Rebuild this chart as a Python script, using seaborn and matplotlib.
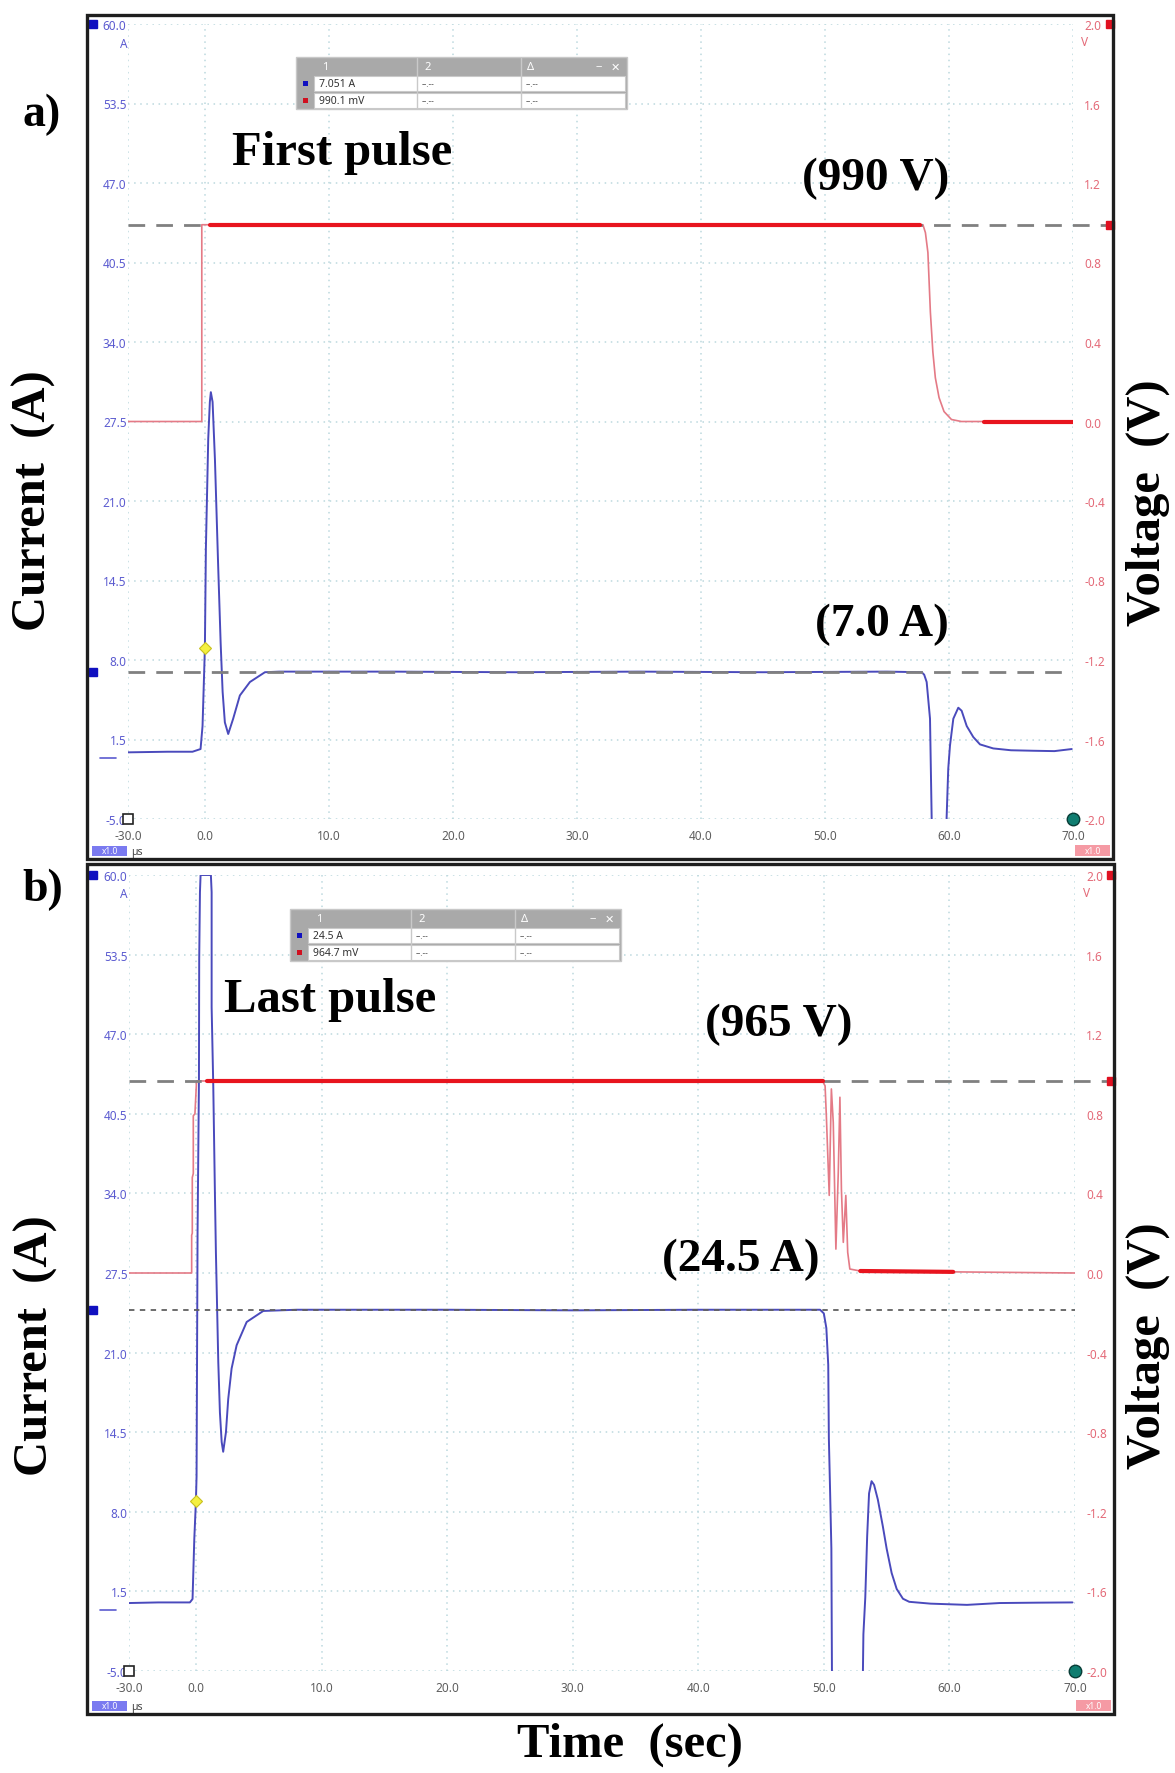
import matplotlib
matplotlib.use("Agg")
import numpy as np
import pandas as pd
import matplotlib.pyplot as plt
import matplotlib.transforms as mtrans
from matplotlib.patches import Rectangle
import seaborn as sns

# ---------------- data ----------------
cur_ticks = [-5.0, 1.5, 8.0, 14.5, 21.0, 27.5, 34.0, 40.5, 47.0, 53.5, 60.0]
volt_ticks = [-2.0, -1.6, -1.2, -0.8, -0.4, 0.0, 0.4, 0.8, 1.2, 1.6, 2.0]
time_ticks = [0.0, 10.0, 20.0, 30.0, 40.0, 50.0, 60.0, 70.0]
time_labels = ["-30.0", "0.0", "10.0", "20.0", "30.0", "40.0", "50.0", "60.0", "70.0"]

# panel a) first pulse
t_cur_a = [-6.2, -3.0, -1.0, -0.35, -0.19, 0.0, 0.08, 0.27, 0.40, 0.48, 0.62, 0.81,
           1.07, 1.27, 1.43, 1.61, 1.88, 2.28, 2.82, 3.63, 4.84, 6.0, 15.0, 25.0,
           35.0, 45.0, 55.0, 57.8, 58.0, 58.2, 58.47, 58.6, 58.62, 59.78, 59.81,
           59.94, 60.08, 60.35, 60.75, 61.02, 61.43, 61.96, 62.5, 63.57, 65.0,
           66.8, 68.5, 69.9]
i_cur_a = [0.45, 0.5, 0.5, 0.72, 2.6, 9.0, 17.1, 26.1, 29.1, 29.9, 29.1, 24.4,
           15.7, 9.4, 5.4, 2.9, 1.95, 3.2, 5.1, 6.2, 7.0, 7.05, 7.05, 7.0,
           7.05, 7.0, 7.05, 7.0, 6.8, 6.2, 3.2, -4.7, -6.0, -6.0, -4.86,
           -0.9, 1.0, 3.2, 4.1, 3.85, 2.6, 1.7, 1.1, 0.77, 0.62,
           0.58, 0.55, 0.72]
t_volt_a = [-6.2, -0.25, -0.25, 57.9, 58.1, 58.3, 58.5, 58.7, 58.9, 59.2, 59.6, 60.2, 61.0, 70.0]
v_volt_a = [0.0, 0.0, 0.99, 0.99, 0.95, 0.85, 0.55, 0.35, 0.22, 0.12, 0.05, 0.01, 0.0, 0.0]
dense_a = [(0.4, 57.7), (62.8, 70.0)]
readout_a = ("7.051 A", "990.1 mV")
level_cur_a = 7.0      # A
level_volt_a = 0.990   # V on the probe scale (990 V)
trigger_a = (0.0, 9.0)

# panel b) last pulse
t_cur_b = [-5.33, -3.0, -0.48, -0.27, -0.13, 0.0, 0.05, 0.13, 0.24, 0.26, 0.32, 0.37,
           1.19, 1.25, 1.25, 1.38, 1.51, 1.59, 1.78, 1.91, 2.05, 2.17, 2.39, 2.57,
           2.84, 3.24, 4.04, 5.36, 8.0, 20.0, 30.0, 40.0, 49.7, 50.0, 50.2, 50.35,
           50.4, 50.5, 50.6, 50.65, 53.1, 53.15, 53.3, 53.45, 53.6, 53.8, 54.0,
           54.3, 54.7, 55.0, 55.4, 55.8, 56.3, 56.8, 58.5, 61.4, 64.0, 67.0, 69.8]
i_cur_b = [0.55, 0.6, 0.6, 0.88, 5.8, 8.9, 10.9, 30.8, 43.3, 53.1, 58.6, 60.0,
           60.0, 58.6, 49.2, 42.8, 34.1, 29.2, 20.2, 16.1, 13.7, 12.9, 14.5, 17.2,
           19.7, 21.6, 23.5, 24.4, 24.5, 24.5, 24.45, 24.5, 24.5, 24.2, 23.0, 20.0,
           14.0, 9.6, 5.0, -6.0, -6.0, -2.0, 1.0, 6.0, 9.5, 10.5, 10.2,
           9.0, 6.8, 5.0, 3.0, 1.7, 0.9, 0.65, 0.5, 0.4, 0.55, 0.58, 0.6]
t_volt_b = [-5.33, -0.34, -0.34, -0.29, -0.29, -0.21, -0.21, -0.08, 0.05, 49.9,
            50.1, 50.2, 50.43, 50.6, 50.75, 50.96, 51.15, 51.28, 51.4, 51.55,
            51.75, 51.9, 52.07, 52.9, 70.0]
v_volt_b = [0.0, 0.0, 0.19, 0.2, 0.48, 0.5, 0.79, 0.8, 0.965, 0.965,
            0.94, 0.79, 0.39, 0.925, 0.757, 0.12, 0.506, 0.883, 0.42, 0.154,
            0.39, 0.104, 0.02, 0.01, 0.0]
dense_b = [(0.85, 49.9), (52.9, 60.3)]
readout_b = ("24.5 A", "964.7 mV")
level_cur_b = 24.5
level_volt_b = 0.965
trigger_b = (0.0, 8.9)

# ---------------- style ----------------
W, H = 1175, 1774
BLUE_TXT = "#5b5bd0"
RED_TXT = "#e46a78"
GRAY_TXT = "#5e5e5e"
CUR_COL = "#4a4abc"
VOLT_THIN = "#e47a86"
VOLT_THICK = "#e8141e"
GRID_COL = "#bcd8de"

sns.set_theme(style="white")
plt.rcParams["font.family"] = ["Noto Sans", "DejaVu Sans"]
SERIF = ["Liberation Serif", "DejaVu Serif"]

fig = plt.figure(figsize=(W / 100, H / 100), dpi=100)
fig.patch.set_facecolor("white")


def frac_rect(x0, y0, x1, y1):
    return [x0 / W, 1 - y1 / H, (x1 - x0) / W, (y1 - y0) / H]


def fx(x):
    return x / W


def fy(y):
    return 1 - y / H


def ftext(x, y, s, **kw):
    fig.text(fx(x), fy(y), s, **kw)


def frect(x0, y0, x1, y1, **kw):
    fig.patches.append(Rectangle((fx(x0), fy(y1)), (x1 - x0) / W, (y1 - y0) / H,
                                 transform=fig.transFigure, figure=fig, **kw))


def cursor_table(x0, y0, cur_txt, volt_txt):
    w, hh, rh = 331, 18, 17
    frect(x0, y0, x0 + w, y0 + hh + 2 * rh, facecolor="#a9a9a9", edgecolor="#c8c8c8", lw=1, zorder=5)
    for r in range(2):
        ry = y0 + hh + r * rh
        frect(x0 + 18, ry + 1, x0 + w - 2, ry + rh - 1, facecolor="white",
              edgecolor="#c9c9c9", lw=0.8, zorder=6)
        frect(x0 + 7, ry + 6, x0 + 12, ry + 11,
              facecolor=["#1010c0", "#d01020"][r], edgecolor="none", zorder=7)
    for cx in (121, 225):
        fig.add_artist(plt.Line2D([fx(x0 + cx)] * 2, [fy(y0 + 1), fy(y0 + hh + 2 * rh - 1)],
                                  transform=fig.transFigure, color="#c9c9c9", lw=1, zorder=7))
    hy = y0 + hh / 2 + 1
    ftext(x0 + 26, hy, "1", color="white", fontsize=8, va="center", zorder=8)
    ftext(x0 + 128, hy, "2", color="white", fontsize=8, va="center", zorder=8)
    ftext(x0 + 231, hy, "Δ", color="white", fontsize=8, va="center", zorder=8)
    ftext(x0 + 300, hy, "‒", color="white", fontsize=8, va="center", fontweight="bold", zorder=8)
    ftext(x0 + 315, hy, "✕", color="white", fontsize=8, va="center", fontweight="bold",
          family=["DejaVu Sans"], zorder=8)
    for r, txt in enumerate((cur_txt, volt_txt)):
        ry = y0 + hh + r * rh + rh / 2
        ftext(x0 + 23, ry, txt, color="#333333", fontsize=7.5, va="center", zorder=8)
        ftext(x0 + 126, ry, "--.--", color="#555555", fontsize=6, va="center", zorder=8)
        ftext(x0 + 230, ry, "--.--", color="#555555", fontsize=6, va="center", zorder=8)


def draw_panel(box, frame, xlim, t_cur, i_cur, t_volt, v_volt, dense, cur_level,
               volt_level, trigger, cur_dash):
    x0, y0, x1, y1 = box
    ax = fig.add_axes(frac_rect(x0, y0, x1, y1))
    ax2 = ax.twinx()
    ax.set_xlim(*xlim)
    ax.set_ylim(-5, 60)
    ax2.set_ylim(-2, 2)
    for a in (ax, ax2):
        for sp in a.spines.values():
            sp.set_visible(False)
        a.set_facecolor("none")
    ax.set_zorder(1)
    ax2.set_zorder(2)

    # grid and ticks
    ax.set_xticks([xlim[0]] + time_ticks)
    ax.set_xticklabels(time_labels, color=GRAY_TXT, fontsize=8.5)
    ax.set_yticks(cur_ticks)
    ax.set_yticklabels([f"{v:.1f}" for v in cur_ticks], color=BLUE_TXT, fontsize=8.5)
    ax2.set_yticks(volt_ticks)
    ax2.set_yticklabels([f"{v:.1f}" for v in volt_ticks], color=RED_TXT, fontsize=8.5)
    ax.tick_params(axis="y", length=0, pad=1)
    ax.tick_params(axis="x", length=0, pad=7)
    ax2.tick_params(axis="y", length=0, pad=8)
    ax.grid(True, color=GRID_COL, linestyle=(0, (1, 3)), lw=1.1)
    ax.set_axisbelow(True)
    ax2.grid(False)
    ax.set_xlabel("")
    ax.set_ylabel("")
    ax2.set_ylabel("")

    # current trace
    sns.lineplot(x=t_cur, y=i_cur, ax=ax, color=CUR_COL, lw=1.4,
                 estimator=None, sort=False, errorbar=None, zorder=2)
    blend = mtrans.blended_transform_factory(ax.transAxes, ax.transData)
    if cur_dash == "long":
        ax.plot([0, 1], [cur_level, cur_level], transform=blend, color="#808080",
                lw=2.0, dashes=(6, 4), zorder=3)
    else:
        ax.plot([0, 1], [cur_level, cur_level], transform=blend, color="#606060",
                lw=1.3, dashes=(3, 3), zorder=3)
    lft = (frame[0] + 6 - x0) / (x1 - x0)
    ax.plot([lft], [cur_level], transform=blend, marker="s", ms=6, color="#1010c0",
            clip_on=False, zorder=4)
    ax.plot([lft], [60.0], transform=blend, marker="s", ms=6, color="#1010c0",
            clip_on=False, zorder=4)
    # channel zero marker
    ax.plot([(frame[0] + 13 - x0) / (x1 - x0), (frame[0] + 29 - x0) / (x1 - x0)], [0, 0],
            transform=blend, color=BLUE_TXT, lw=1.2, clip_on=False)

    # voltage trace (thin) and its dense-noise stretches (thick)
    sns.lineplot(x=t_volt, y=v_volt, ax=ax2, color=VOLT_THIN, lw=1.2,
                 estimator=None, sort=False, errorbar=None, zorder=2)
    blend2 = mtrans.blended_transform_factory(ax2.transAxes, ax2.transData)
    ext = (frame[2] - 3 - x0) / (x1 - x0)
    ax2.plot([0, ext], [volt_level, volt_level], transform=blend2, color="#808080",
             lw=2.0, dashes=(6, 4), clip_on=False, zorder=3)
    for s, e in dense:
        tt = [s, e]
        vv = list(np.interp(tt, t_volt, v_volt))
        sns.lineplot(x=tt, y=vv, ax=ax2, color=VOLT_THICK, lw=3.0,
                     estimator=None, sort=False, errorbar=None, zorder=4)
    ax2.plot([ext], [volt_level], transform=blend2, marker="s", ms=6, color="#e01020",
             clip_on=False, zorder=5)
    ax2.plot([ext], [2.0], transform=blend2, marker="s", ms=6, color="#e01020",
             clip_on=False, zorder=5)

    # trigger point
    ax2.plot([trigger[0]], [trigger[1]], transform=ax.transData, marker="D", ms=6,
             mfc="#f4f040", mec="#c8c020", mew=0.8, zorder=6)
    # corner markers
    ax2.plot([0], [0], transform=ax.transAxes, marker="s", ms=7, mfc="white", mec="#222222",
             mew=1.2, clip_on=False, zorder=6)
    ax2.plot([1], [0], transform=ax.transAxes, marker="o", ms=9, mfc="#0f7d70", mec="#083c36",
             mew=1.0, clip_on=False, zorder=6)

    # units
    ftext(x0 - 1, y0 + 19, "A", color=BLUE_TXT, fontsize=8.5, ha="right", va="center")
    ftext(x1 + 8, y0 + 18, "V", color=RED_TXT, fontsize=8.5, ha="left", va="center")

    # scale boxes at the bottom of the screen
    fb = frame[3]
    frect(frame[0] + 5, fb - 13, frame[0] + 40, fb - 3, facecolor="#7a7af0", edgecolor="none")
    ftext(frame[0] + 22.5, fb - 8, "x1.0", color="white", fontsize=6, ha="center", va="center")
    ftext(frame[0] + 44, fb - 7, "µs", color="#444444", fontsize=7.5, ha="left", va="center")
    frect(frame[2] - 38, fb - 14, frame[2] - 3, fb - 3, facecolor="#f59aa4", edgecolor="none")
    ftext(frame[2] - 20.5, fb - 8.5, "x1.0", color="white", fontsize=6, ha="center", va="center")

    # screen frame
    fx0, fy0, fx1, fy1 = frame
    frect(fx0, fy0, fx1, fy1, facecolor="none", edgecolor="#1e1e1e", lw=2.4, zorder=10)
    return ax


draw_panel((128, 25, 1073, 820), (87, 16, 1113, 860), (-6.2, 70.0),
           t_cur_a, i_cur_a, t_volt_a, v_volt_a, dense_a,
           level_cur_a, level_volt_a, trigger_a, "long")
draw_panel((129, 876, 1075, 1672), (87, 865, 1114, 1715), (-5.33, 70.0),
           t_cur_b, i_cur_b, t_volt_b, v_volt_b, dense_b,
           level_cur_b, level_volt_b, trigger_b, "short")

cursor_table(296, 58, *readout_a)
cursor_table(290, 910, *readout_b)

# annotations
bold = dict(family=SERIF, fontweight="bold", color="black")
ftext(42, 115, "a)", fontsize=33, ha="center", va="center", **bold)
ftext(43, 890, "b)", fontsize=33, ha="center", va="center", **bold)
ftext(232, 153, "First pulse", fontsize=35, ha="left", va="center", **bold)
ftext(876, 179, f"({level_volt_a * 1000:.0f} V)", fontsize=34, ha="center", va="center", **bold)
ftext(882, 625, f"({level_cur_a:.1f} A)", fontsize=34, ha="center", va="center", **bold)
ftext(224, 1000, "Last pulse", fontsize=35, ha="left", va="center", **bold)
ftext(779, 1025, f"({level_volt_b * 1000:.0f} V)", fontsize=34, ha="center", va="center", **bold)
ftext(741, 1260, f"({level_cur_b:.1f} A)", fontsize=34, ha="center", va="center", **bold)

ftext(34, 501, "Current  (A)", fontsize=35, rotation=90, ha="center", va="center", **bold)
ftext(36, 1346, "Current  (A)", fontsize=35, rotation=90, ha="center", va="center", **bold)
ftext(1148, 503, "Voltage  (V)", fontsize=35, rotation=90, ha="center", va="center", **bold)
ftext(1148, 1346, "Voltage  (V)", fontsize=35, rotation=90, ha="center", va="center", **bold)
ftext(630, 1745, "Time  (sec)", fontsize=35, ha="center", va="center", **bold)

fig.savefig("out.png", dpi=100, facecolor="white")
